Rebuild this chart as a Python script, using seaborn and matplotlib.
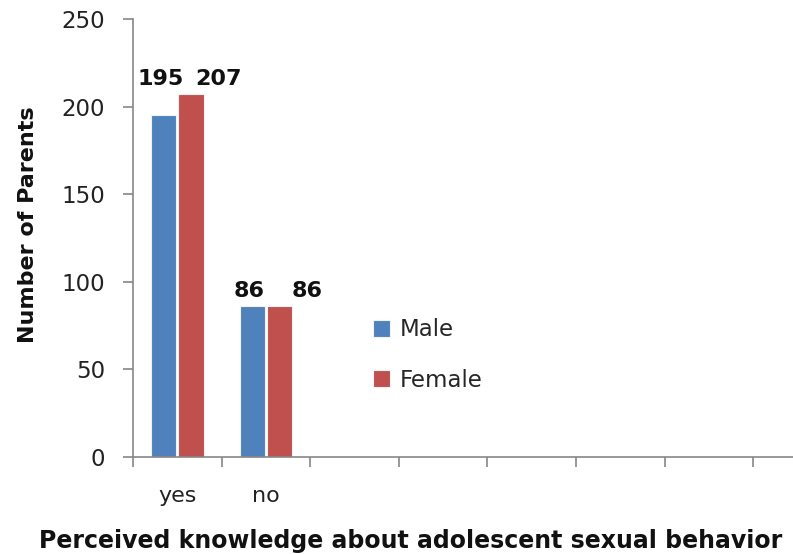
import matplotlib
matplotlib.use("Agg")
import matplotlib.pyplot as plt
import pandas as pd
import seaborn as sns

# -----------------------------
# Data
# -----------------------------
categories = ["yes", "no"]
male_counts = [195, 86]
female_counts = [207, 86]
series = ["Male", "Female"]
colors = ["#4F81BD", "#C0504D"]

df = pd.DataFrame({
    "answer": categories * 2,
    "sex": ["Male"] * len(categories) + ["Female"] * len(categories),
    "count": male_counts + female_counts,
})

sns.set_style("white")
plt.rcParams["font.family"] = ["DejaVu Sans"]

W, H = 793, 554
AX_W = 8 * 88.6
fig = plt.figure(figsize=(W / 100, H / 100), dpi=100)
ax = fig.add_axes([133 / W, 97 / H, AX_W / W, 438 / H])

sns.barplot(data=df, x="answer", y="count", hue="sex", order=categories,
            hue_order=series, palette=colors, width=0.62, gap=0.08,
            edgecolor="#f2f2f2", linewidth=0.8, saturation=1, ax=ax)

# value labels (Excel places them at the same height per group)
for i, cat in enumerate(categories):
    top = max(male_counts[i], female_counts[i])
    ax.annotate(str(male_counts[i]), (i - 0.155, top), xytext=(-3, 5),
                textcoords="offset pixels", ha="center", va="bottom",
                fontsize=16, fontweight="bold", color="#111111")
    ax.annotate(str(female_counts[i]), (i + 0.155, top), xytext=(27, 5),
                textcoords="offset pixels", ha="center", va="bottom",
                fontsize=16, fontweight="bold", color="#111111")

ax.set_ylim(0, 250)
ax.set_yticks(range(0, 251, 50))
ax.set_xlim(-0.5, 7.5)

# boundary ticks like Excel, labels at centers
ax.set_xticks([x - 0.5 for x in range(9)])
ax.set_xticklabels([])
ax.set_xticks(range(len(categories)), labels=categories, minor=True)
ax.tick_params(axis="x", which="major", direction="out", length=7,
               width=1.2, color="#868686", bottom=True)
ax.tick_params(axis="x", which="minor", length=0, pad=21, labelsize=16,
               labelcolor="#222222")
ax.tick_params(axis="y", direction="out", length=7, width=1.2,
               color="#868686", pad=13, labelsize=16.5, labelcolor="#222222",
               left=True)

for side in ["top", "right"]:
    ax.spines[side].set_visible(False)
for side in ["left", "bottom"]:
    ax.spines[side].set_color("#868686")
    ax.spines[side].set_linewidth(1.2)

ax.set_ylabel("Number of Parents", fontsize=16, fontweight="bold",
              color="#111111")
ax.yaxis.set_label_coords((28 - 133) / AX_W, (457 - 225) / 438)
ax.set_xlabel("Perceived knowledge about adolescent sexual behavior",
              fontsize=17, fontweight="bold", color="#111111")
ax.xaxis.set_label_coords((411 - 133) / AX_W, -(541 - 457) / 438)
ax.xaxis.label.set_va("center")
ax.yaxis.label.set_va("center")

ax.legend(loc="center left", bbox_to_anchor=(352 / W, (H - 355) / H),
          bbox_transform=fig.transFigure, frameon=False, fontsize=16.5,
          handlelength=0.75, handleheight=0.75, handletextpad=0.45,
          labelspacing=1.2)

fig.savefig("out.png", dpi=100)
